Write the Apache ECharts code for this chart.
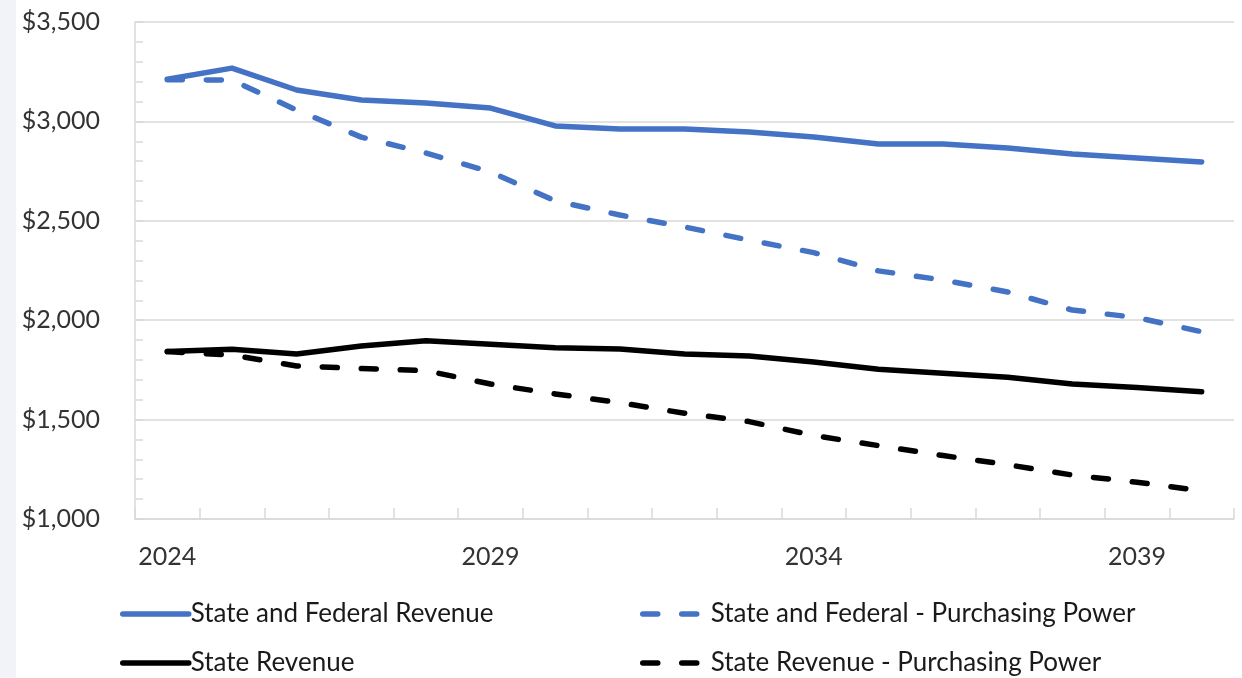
<!DOCTYPE html>
<html><head><meta charset="utf-8">
<script src="https://cdn.jsdelivr.net/npm/echarts@6/dist/echarts.min.js"></script>
<style>html,body{margin:0;padding:0;background:#fff}#c{width:1242px;height:678px}</style>
</head><body><div id="c"></div>
<script>
const years = ['2024','2025','2026','2027','2028','2029','2030','2031','2032','2033','2034','2035','2036','2037','2038','2039','2040'];
const stateFederal = [3212, 3268, 3158, 3108, 3093, 3067, 2977, 2962, 2962, 2947, 2922, 2886, 2886, 2866, 2836, 2816, 2796];
const stateFederalPP = [3210, 3208, 3057, 2921, 2841, 2746, 2600, 2529, 2469, 2403, 2340, 2248, 2202, 2142, 2051, 2013, 1942];
const stateRev = [1842, 1854, 1830, 1870, 1897, 1879, 1862, 1855, 1830, 1820, 1790, 1753, 1733, 1713, 1679, 1662, 1640];
const stateRevPP = [1842, 1825, 1770, 1757, 1746, 1679, 1629, 1585, 1532, 1490, 1420, 1369, 1319, 1273, 1221, 1185, 1142];
const seriesNames = ['State and Federal Revenue', 'State and Federal - Purchasing Power', 'State Revenue', 'State Revenue - Purchasing Power'];

const font = 'Lato';
const blue = '#4472C4';
const chart = echarts.init(document.getElementById('c'), null, {renderer: 'canvas'});
function mk(name, data, color, dashed) {
  return {
    name, type: 'line', data, symbol: 'none', smooth: false,
    lineStyle: {color, width: 5.5, type: dashed ? [15, 24] : 'solid', cap: 'round', join: 'round'},
    itemStyle: {color}
  };
}
function legend(data, left) {
  return {data, left, orient: 'vertical', top: 601, height: 76, padding: 0, itemGap: 23, itemWidth: 66, itemHeight: 25,
    itemStyle: {opacity: 0}, lineStyle: {width: 5.5},
    textStyle: {fontFamily: font, fontSize: 26, lineHeight: 25, color: '#1a1a1a', padding: [0, 0, 0, -3]}};
}
chart.setOption({
  animation: false,
  graphic: [{type: 'rect', left: 0, top: 0, shape: {width: 16, height: 678}, style: {fill: '#f2f3f8'}, z: -10}],
  grid: {left: 135, right: 8, top: 22, bottom: 159},
  legend: [
    legend([seriesNames[0], seriesNames[2]], 120),
    legend([seriesNames[1], seriesNames[3]], 640)
  ],
  xAxis: {
    type: 'category', data: years, boundaryGap: true,
    axisLine: {lineStyle: {color: '#d9d9d9', width: 1.5}},
    axisTick: {show: true, inside: true, length: 11, interval: 0, lineStyle: {color: '#d9d9d9', width: 1.5}},
    axisLabel: {interval: 4, margin: 25, fontFamily: font, fontSize: 25, color: '#333'},
    splitLine: {show: false}
  },
  yAxis: {
    type: 'value', min: 1000, max: 3500, interval: 500,
    axisLine: {show: true, lineStyle: {color: '#d9d9d9', width: 1.5}},
    axisTick: {show: true, inside: true, length: 8, lineStyle: {color: '#d9d9d9', width: 1.5}},
    minorTick: {show: true, splitNumber: 5, length: 8, lineStyle: {color: '#d9d9d9', width: 1.5}},
    splitLine: {show: true, lineStyle: {color: '#d9d9d9', width: 1.5}},
    axisLabel: {margin: 35, fontFamily: font, fontSize: 25, color: '#333',
      formatter: v => '$' + v.toLocaleString('en-US')}
  },
  series: [
    mk(seriesNames[0], stateFederal, blue, false),
    mk(seriesNames[1], stateFederalPP, blue, true),
    mk(seriesNames[2], stateRev, '#000', false),
    mk(seriesNames[3], stateRevPP, '#000', true)
  ]
});
</script></body></html>
